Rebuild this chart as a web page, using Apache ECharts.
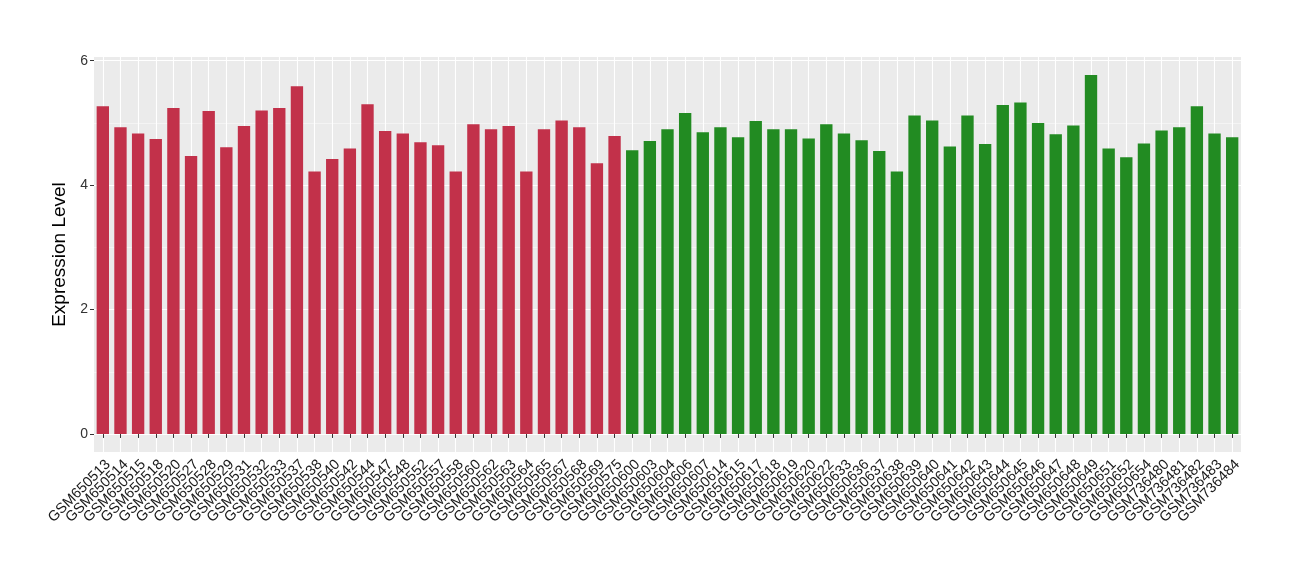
<!DOCTYPE html>
<html>
<head>
<meta charset="utf-8">
<script src="https://cdn.jsdelivr.net/npm/echarts@6/dist/echarts.min.js"></script>
<style>
  html, body { margin: 0; padding: 0; background: #fff; }
  #chart { width: 1300px; height: 580px; }
</style>
</head>
<body>
<div id="chart"></div>
<script>
// sample ids along the x axis
var samples = [
  'GSM650513', 'GSM650514', 'GSM650515', 'GSM650518', 'GSM650520', 'GSM650527',
  'GSM650528', 'GSM650529', 'GSM650531', 'GSM650532', 'GSM650533', 'GSM650537',
  'GSM650538', 'GSM650540', 'GSM650542', 'GSM650544', 'GSM650547', 'GSM650548',
  'GSM650552', 'GSM650557', 'GSM650558', 'GSM650560', 'GSM650562', 'GSM650563',
  'GSM650564', 'GSM650565', 'GSM650567', 'GSM650568', 'GSM650569', 'GSM650575',
  'GSM650600', 'GSM650603', 'GSM650604', 'GSM650606', 'GSM650607', 'GSM650614',
  'GSM650615', 'GSM650617', 'GSM650618', 'GSM650619', 'GSM650620', 'GSM650622',
  'GSM650633', 'GSM650636', 'GSM650637', 'GSM650638', 'GSM650639', 'GSM650640',
  'GSM650641', 'GSM650642', 'GSM650643', 'GSM650644', 'GSM650645', 'GSM650646',
  'GSM650647', 'GSM650648', 'GSM650649', 'GSM650651', 'GSM650652', 'GSM650654',
  'GSM736480', 'GSM736481', 'GSM736482', 'GSM736483', 'GSM736484'
]

// expression level per sample
var expression = [
  5.27, 4.93, 4.83, 4.74, 5.24, 4.47, 5.19, 4.61, 4.95, 5.20,
  5.24, 5.59, 4.22, 4.42, 4.59, 5.30, 4.87, 4.83, 4.69, 4.64,
  4.22, 4.98, 4.90, 4.95, 4.22, 4.90, 5.04, 4.93, 4.35, 4.79,
  4.56, 4.71, 4.90, 5.16, 4.85, 4.93, 4.77, 5.03, 4.90, 4.90,
  4.75, 4.98, 4.83, 4.72, 4.55, 4.22, 5.12, 5.04, 4.62, 5.12,
  4.66, 5.29, 5.33, 5.00, 4.82, 4.96, 5.77, 4.59, 4.45, 4.67,
  4.88, 4.93, 5.27, 4.83, 4.77
]

// the first group (red) has 30 samples, the rest are the second group (green)
var groupSizes = [30, 35]
var groupColors = ['#C2314A', '#228B22']

var majorTicks = [0, 2, 4, 6]
var minorTicks = [1, 3, 5]

var chart = echarts.init(document.getElementById('chart'))

var barData = expression.map(function(v, i) {
  return {
    value: v,
    itemStyle: { color: i < groupSizes[0] ? groupColors[0] : groupColors[1] }
  }
})

chart.setOption({
  animation: false,
  textStyle: { fontFamily: 'Liberation Sans, Arial, sans-serif' },
  grid: {
    left: 94,
    right: 59,
    top: 57,
    bottom: 128,
    show: true,
    backgroundColor: '#EBEBEB',
    borderWidth: 0
  },
  xAxis: {
    type: 'category',
    data: samples,
    boundaryGap: true,
    axisLine: { show: false },
    axisTick: {
      show: true,
      alignWithLabel: true,
      length: 4,
      lineStyle: { color: '#333', width: 1 }
    },
    axisLabel: {
      interval: 0,
      rotate: 45,
      fontSize: 14.5,
      color: '#1a1a1a',
      verticalAlign: 'top',
      margin: 5
    },
    splitLine: {
      show: true,
      alignWithLabel: true,
      interval: 0,
      lineStyle: { color: '#FFFFFF', width: 1.1 }
    }
  },
  yAxis: [{
    type: 'value',
    min: -0.29,
    max: 6.06,
    name: 'Expression Level',
    nameLocation: 'middle',
    nameGap: 20,
    nameTextStyle: { fontSize: 19, color: '#000' },
    axisLine: { show: false },
    axisTick: {
      show: true,
      length: 4,
      customValues: majorTicks,
      lineStyle: { color: '#333' }
    },
    axisLabel: {
      customValues: majorTicks,
      fontSize: 14,
      color: '#333',
      margin: 6
    },
    splitLine: { show: true, lineStyle: { color: '#FFFFFF', width: 1.2 } }
  }, {
    type: 'value',
    position: 'left',
    min: -0.29,
    max: 6.06,
    axisLine: { show: false },
    axisTick: { show: false, customValues: minorTicks },
    axisLabel: { show: false, customValues: minorTicks },
    splitLine: { show: true, lineStyle: { color: '#F6F6F6', width: 0.8 } }
  }],
  series: [{
    type: 'bar',
    yAxisIndex: 0,
    barWidth: '70%',
    data: barData
  }]
})
</script>
</body>
</html>
